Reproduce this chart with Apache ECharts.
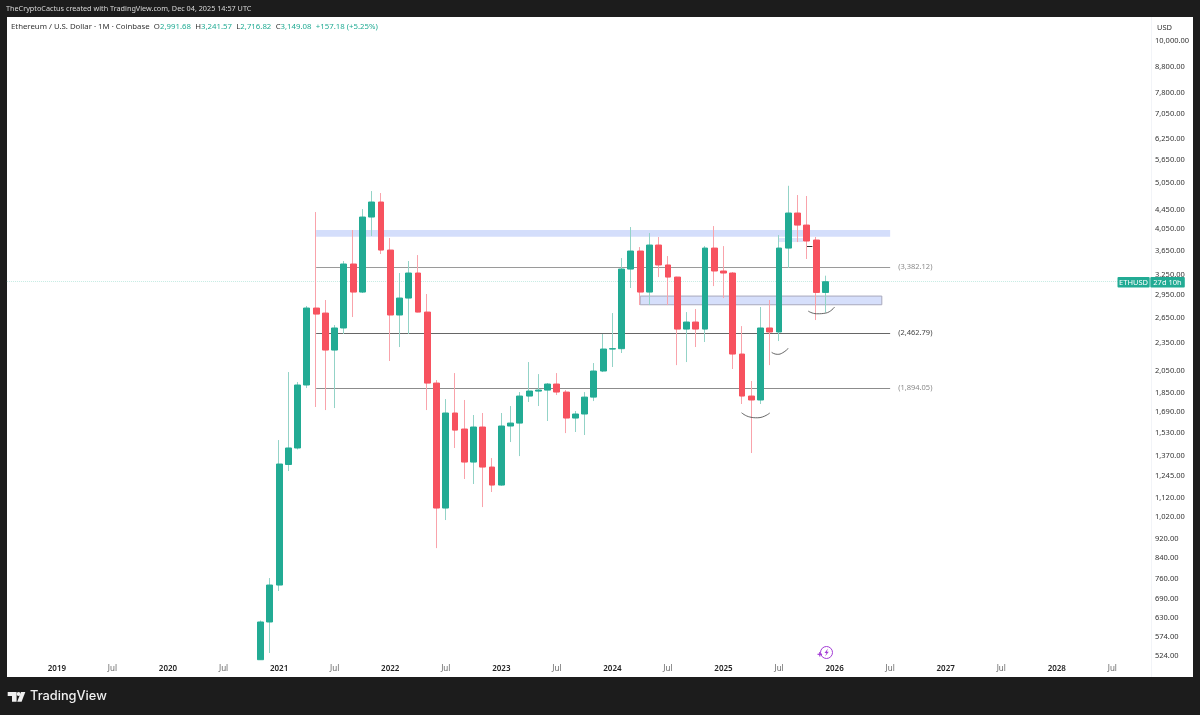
<!DOCTYPE html>
<html><head><meta charset="utf-8">
<style>html,body{margin:0;padding:0;background:#1c1c1c}#c{width:1200px;height:715px}</style>
<script src="https://cdn.jsdelivr.net/npm/echarts@6/dist/echarts.min.js"></script>
</head><body><div id="c"></div>
<script>
const categories=['2018-08','2018-09','2018-10','2018-11','2018-12',
'2019-01','2019-02','2019-03','2019-04','2019-05','2019-06','2019-07','2019-08','2019-09','2019-10','2019-11','2019-12',
'2020-01','2020-02','2020-03','2020-04','2020-05','2020-06','2020-07','2020-08','2020-09','2020-10','2020-11','2020-12',
'2021-01','2021-02','2021-03','2021-04','2021-05','2021-06','2021-07','2021-08','2021-09','2021-10','2021-11','2021-12',
'2022-01','2022-02','2022-03','2022-04','2022-05','2022-06','2022-07','2022-08','2022-09','2022-10','2022-11','2022-12',
'2023-01','2023-02','2023-03','2023-04','2023-05','2023-06','2023-07','2023-08','2023-09','2023-10','2023-11','2023-12',
'2024-01','2024-02','2024-03','2024-04','2024-05','2024-06','2024-07','2024-08','2024-09','2024-10','2024-11','2024-12',
'2025-01','2025-02','2025-03','2025-04','2025-05','2025-06','2025-07','2025-08','2025-09','2025-10','2025-11','2025-12',
'2026-01','2026-02','2026-03','2026-04','2026-05','2026-06','2026-07','2026-08','2026-09','2026-10','2026-11','2026-12',
'2027-01','2027-02','2027-03','2027-04','2027-05','2027-06','2027-07','2027-08','2027-09','2027-10','2027-11','2027-12',
'2028-01','2028-02','2028-03','2028-04','2028-05','2028-06','2028-07','2028-08','2028-09','2028-10','2028-11'];
const firstCandle='2020-11';
const opens=[515,617,736.5,1312,1420,1920,2776,2710,2270,2523,3428,2997,4293,4613,3665,2685,2912,3283,2723,1938,1065,1679,1555,1327.5,1570,1296,1189,1577.5,1600,1821,1865,1874,1929,1856,1639,1671,1812,2053,2281,2285,3346,3648,2997,3754,3412,3220,2510,2596,2510,3700,3315,3283,2227,1821,1787,2523,2475,3700,4376,4131,3845,2991.68];
const closes=[617,736.5,1315,1420,1920,2776,2697,2270,2523,3428,2997,4293,4613,3665,2685,2912,3283,2723,1938,1065,1679,1547,1327.5,1570,1296,1189,1577.5,1600,1821,1865.5,1874,1929,1856.5,1639,1671,1812,2053,2281,2285,3346,3648,2997,3754,3412,3220,2510,2596,2510,3700,3315,3283,2227,1821,1787,2523,2475,3700,4376,4131,3827,2991.68,3149.08];
const lows=[515,531.8,715.7,1271.5,1410,1892,1728,1703,1719.5,2451,2659,2983,3919,3596,2154,2303,2451,2720,1703,879,1005.5,1420,1224,1195,1070,1150,1185,1461,1366,1770,1736,1616,1830,1525,1533,1511,1778,2043,2093,2238,3056,2816,2816,3220,2816,2112,2143,2303,2359,3084,2912,2073,1753,1386,1753,2112,2370,3363,3808,3511,2621,2716.82];
const highs=[621.4,761.6,1475,2043,1947.6,2803,4397,2885,2559,3477,4034,4460,4862,4816,3882,3283,3477,3578,2969,1966,1795,2033,1787,1663,1679,1353,1679,1736,1856.5,2143,2023,1938,2033,1874,1695,1856,2133,2451,2710,3527,4092,3718,3976,3901,3561,3225,2723,2763,3735,4111,3735,3298,2546,1957,2790,2885,3938,4986,4770,4748,3901,3241.57];
const tickLabels=[10000,8800,7800,7050,6250,5650,5050,4450,4050,3650,3250,2950,2650,2350,2050,1850,1690,1530,1370,1245,1120,1020,920,840,760,690,630,574,524];
const levels=[3382.12,2462.79,1894.05];
const levelColors=['#9a9a9a','#666666','#8c8c8c'];
const levelTextColors=['#8a8a8a','#444444','#8a8a8a'];
const upperZone=[3906,4034];
const lowerZone=[2820,2940];
const smallZone=[3808,3882];
const smallDash=3735;
const arcA=[[79.45,1681],[80.35,1647],[81.2,1641],[82.5,1679]];
const arcB=[[82.7,2245],[83.3,2224],[83.9,2241],[84.5,2289]];
const arcC=[[86.65,2736],[87.55,2701],[88.55,2710],[89.5,2790]];

const UP='#22ab94',DOWN='#f7525f';
const FONT='"Noto Sans",sans-serif';
const start=categories.indexOf(firstCandle);
const bodies=opens.map((o,i)=>[categories[start+i],o,closes[i],Math.min(o,closes[i]),Math.max(o,closes[i])]);
const wicks=opens.map((o,i)=>[categories[start+i],o,closes[i],lows[i],highs[i]]);
const fmt=v=>v.toLocaleString('en-US',{minimumFractionDigits:2,maximumFractionDigits:2});
const arcSeries=d=>({type:'line',xAxisIndex:1,yAxisIndex:0,data:d,smooth:true,showSymbol:false,z:6,silent:true,
  lineStyle:{color:'#555',width:0.9}});

const chart=echarts.init(document.getElementById('c'),null,{renderer:'canvas'});
chart.setOption({
  animation:false,
  backgroundColor:'#1c1c1c',
  title:[
    {left:6,top:5,padding:0,text:'TheCryptoCactus created with TradingView.com, Dec 04, 2025 14:57 UTC',
     textStyle:{color:'#d8d8d8',fontSize:7.25,fontWeight:400,fontFamily:FONT}},
    {left:11,top:22,padding:0,text:'{d|Ethereum / U.S. Dollar · 1M · Coinbase}  {d|O}{g|2,991.68}  {d|H}{g|3,241.57}  {d|L}{g|2,716.82}  {d|C}{g|3,149.08}  {g|+157.18 (+5.25%)}',
     textStyle:{fontWeight:400,fontSize:7.8,lineHeight:9,rich:{d:{color:'#333',fontSize:7.8,fontWeight:400,lineHeight:9,fontFamily:FONT},g:{color:UP,fontSize:7.8,fontWeight:400,lineHeight:9,fontFamily:FONT}}}},
    {left:1157,top:24,padding:0,text:'USD',textStyle:{color:'#333',fontSize:7.5,fontWeight:400,fontFamily:FONT}},
    {left:30,top:690,padding:0,text:'TradingView',textStyle:{color:'#f0f0f0',fontSize:12.8,fontWeight:500,fontFamily:'Inter,"Noto Sans",sans-serif'}}
  ],
  grid:{left:6,top:17,width:1148,height:643,containLabel:false},
  xAxis:[
    {type:'category',data:categories,boundaryGap:true,axisLine:{show:false},axisTick:{show:false},splitLine:{show:false},
     axisLabel:{margin:5,hideOverlap:false,showMinLabel:true,showMaxLabel:true,
       interval:(i,v)=>v.endsWith('-01')||v.endsWith('-07'),
       formatter:v=>v.endsWith('-01')?'{y|'+v.slice(0,4)+'}':'{m|Jul}',
       rich:{y:{color:'#222',fontSize:8,fontWeight:600,fontFamily:FONT},m:{color:'#666',fontSize:8,fontFamily:FONT}}}},
    {type:'value',min:0,max:categories.length,show:false,splitLine:{show:false}}
  ],
  yAxis:[{type:'log',logBase:10,position:'right',min:514.3,max:11192,axisLine:{show:false},axisTick:{show:false},splitLine:{show:false},
     axisLabel:{customValues:tickLabels,margin:1,align:'left',color:'#333',fontSize:7.5,fontFamily:FONT,formatter:v=>fmt(+v)}}],
  graphic:[
    {type:'rect',z:-10,silent:true,shape:{x:7,y:17,width:1186,height:660},style:{fill:'#ffffff'}},
    {type:'line',z:-9,silent:true,shape:{x1:1151.5,y1:17,x2:1151.5,y2:677},style:{stroke:'#f2f4f8',lineWidth:1}},
    {type:'rect',z:20,silent:true,shape:{x:1117.5,y:277,width:32.2,height:10.5,r:1},style:{fill:UP}},
    {type:'rect',z:20,silent:true,shape:{x:1150.3,y:277,width:34.5,height:10.5,r:1},style:{fill:UP}},
    {type:'text',z:21,silent:true,x:1133.6,y:282.5,style:{text:'ETHUSD',fill:'#fff',font:'7.5px '+FONT,align:'center',verticalAlign:'middle'}},
    {type:'text',z:21,silent:true,x:1167.5,y:282.5,style:{text:'27d 10h',fill:'#fff',font:'7.5px '+FONT,align:'center',verticalAlign:'middle'}},
    {type:'circle',z:21,silent:true,shape:{cx:826.5,cy:652.5,r:6},style:{fill:'#fff',stroke:'#a33bd6',lineWidth:1}},
    {type:'polygon',z:22,silent:true,shape:{points:[[828,648.5],[824.5,653],[826.5,653],[825,656.5],[828.8,651.8],[826.8,651.8]]},style:{fill:'#a33bd6'}},
    {type:'rect',z:22,silent:true,shape:{x:817.5,y:653.7,width:4.6,height:1.2},style:{fill:'#a33bd6'}},
    {type:'rect',z:22,silent:true,shape:{x:819.2,y:652,width:1.2,height:4.6},style:{fill:'#a33bd6'}},
    {type:'polygon',z:22,silent:true,shape:{points:[[7.7,692],[16.6,692],[16.6,701.7],[12,701.7],[12,696],[7.7,696]]},style:{fill:'#f0f0f0'}},
    {type:'circle',z:22,silent:true,shape:{cx:18.6,cy:694,r:2},style:{fill:'#f0f0f0'}},
    {type:'polygon',z:22,silent:true,shape:{points:[[21,692],[25.3,692],[21.6,701.7],[17.2,701.7]]},style:{fill:'#f0f0f0'}}
  ],
  series:[
    {type:'line',xAxisIndex:1,yAxisIndex:0,data:[],z:1,silent:true,
      markArea:{silent:true,z:1,data:[
        [{coord:[33.5,upperZone[1]],itemStyle:{color:'#d4defb'}},{coord:[95.5,upperZone[0]]}],
        [{coord:[68.5,lowerZone[1]],itemStyle:{color:'#d6dffb',borderColor:'#a8a8bc',borderWidth:1}},{coord:[94.6,lowerZone[0]]}],
        [{coord:[83.5,smallZone[1]],itemStyle:{color:'#dde5fb'}},{coord:[86.1,smallZone[0]]}]
      ]},
      markLine:{silent:true,z:2,symbol:'none',data:[
        ...levels.map((v,i)=>[
          {coord:[33.5,v],lineStyle:{color:levelColors[i],width:1.2,type:'solid'},
           label:{show:true,position:'end',distance:8,formatter:'('+fmt(v)+')',color:levelTextColors[i],fontSize:7.5,fontFamily:FONT,padding:[2,0,0,0]}},
          {coord:[95.5,v]}]),
        [{coord:[0.1,3149.08],lineStyle:{color:'#c5ebe3',width:1,type:'dotted'},label:{show:false}},{coord:[120.1,3149.08]}],
        [{coord:[86.5,smallDash],lineStyle:{color:'#333',width:1,type:'solid'},label:{show:false}},{coord:[87.1,smallDash]}]
      ]}},
    {type:'candlestick',name:'wicks',xAxisIndex:0,yAxisIndex:0,data:wicks,encode:{x:0,y:[1,2,3,4]},barWidth:1,z:4,silent:true,
      itemStyle:{color:'#93d3c7',color0:'#f9a3ab',borderColor:'#93d3c7',borderColor0:'#f9a3ab',borderWidth:1}},
    {type:'candlestick',name:'bodies',xAxisIndex:0,yAxisIndex:0,data:bodies,encode:{x:0,y:[1,2,3,4]},barWidth:6.4,z:5,silent:true,
      itemStyle:{color:UP,color0:DOWN,borderColor:UP,borderColor0:DOWN,borderWidth:1}},
    arcSeries(arcA),arcSeries(arcB),arcSeries(arcC)
  ]
});
</script></body></html>
